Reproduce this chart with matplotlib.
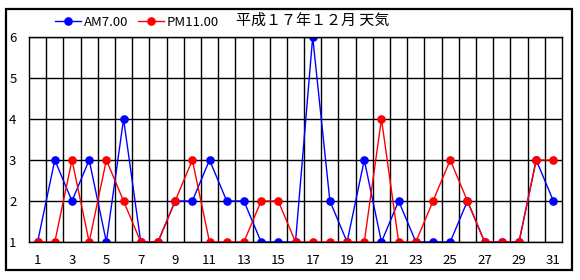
import matplotlib
matplotlib.use("Agg")
import matplotlib.pyplot as plt
from matplotlib.patches import Rectangle

plt.rcParams['font.family'] = ['Noto Sans CJK JP', 'DejaVu Sans']

# ---- data ----
days = list(range(1, 32))
am7 = [1, 3, 2, 3, 1, 4, 1, 1, 2, 2, 3, 2, 2, 1, 1, 1,
       6, 2, 1, 3, 1, 2, 1, 1, 1, 2, 1, 1, 1, 3, 2]
pm11 = [1, 1, 3, 1, 3, 2, 1, 1, 2, 3, 1, 1, 1, 2, 2, 1,
        1, 1, 1, 1, 4, 1, 1, 2, 3, 2, 1, 1, 1, 3, 3]
xtick_labels = [str(d) for d in days[::2]]
title = "平成１７年１２月 天気"

W, H = 580, 280
fig = plt.figure(figsize=(W / 100, H / 100), dpi=100)
ax = fig.add_axes([29 / W, 1 - 242 / H, (562 - 29) / W, (242 - 37) / H])

ax.plot(days, am7, color="#0000ff", lw=1.0, marker="o", ms=5.2,
        label="AM7.00")
ax.plot(days, pm11, color="#ff0000", lw=1.0, marker="o", ms=5.2,
        label="PM11.00")

ax.set_xlim(0.5, 31.5)
ax.set_ylim(1, 6)
ax.set_yticks(range(1, 7))
ax.set_xticks(days[::2])
ax.set_xticklabels(xtick_labels)
ax.set_xticks([d + 0.5 for d in days[:-1]], minor=True)
ax.tick_params(axis="both", which="both", length=0, labelsize=9.5)
ax.tick_params(axis="y", pad=9)
ax.tick_params(axis="x", pad=9)
ax.grid(True, which="major", axis="y", color="black", lw=1.0)
ax.grid(True, which="minor", axis="x", color="black", lw=1.0)
ax.set_axisbelow(True)
for s in ax.spines.values():
    s.set_color("black")
    s.set_linewidth(1.0)

fig.legend(loc="center left", bbox_to_anchor=(55 / W, 1 - 22 / H),
           ncol=2, frameon=False, fontsize=9.5, handlelength=2.0,
           handletextpad=0.2, columnspacing=0.7, borderaxespad=0,
           borderpad=0)
fig.text(313 / W, 1 - 21 / H, title, ha="center", va="center", fontsize=10.8)

# outer chart border
fig.patches.append(Rectangle((6 / W, 1 - 269.5 / H), 565.5 / W, 260.5 / H,
                             transform=fig.transFigure, fill=False,
                             edgecolor="black", lw=1.6))

fig.savefig("out.png", dpi=100)
